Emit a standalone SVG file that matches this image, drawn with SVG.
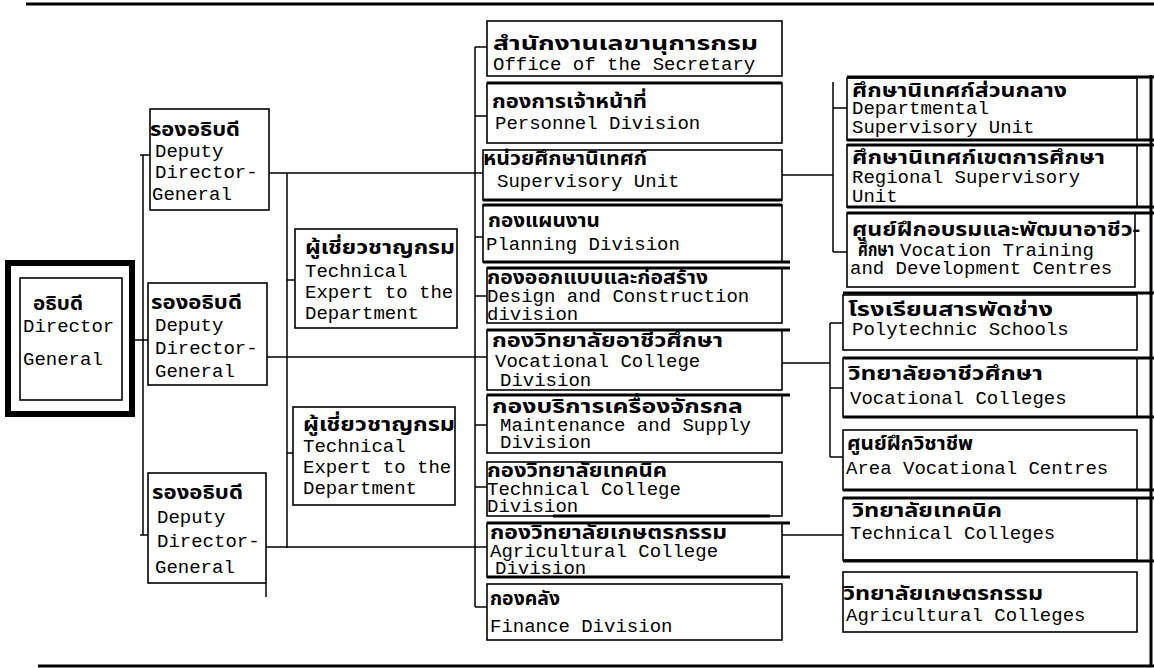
<svg xmlns="http://www.w3.org/2000/svg" width="1154" height="668" viewBox="0 0 1154 668">
<style>
.box{fill:#fff;stroke:#000;stroke-width:1.6}
.ln{stroke:#000;stroke-width:1.5;fill:none}
.tk{stroke:#000;stroke-width:3;fill:none}
.th{font-family:"Noto Sans Thai","Noto Sans",sans-serif;font-weight:bold;font-size:19px;fill:#000}
.en{font-family:"Liberation Mono",monospace;font-size:19px;fill:#000}
</style>
<rect width="1154" height="668" fill="#fff"/>
<g id="frame">
<line class="tk" x1="26" y1="4" x2="1154" y2="4" stroke-width="4"/>
<line class="tk" x1="38" y1="666" x2="1154" y2="666" stroke-width="2"/>
<line class="tk" x1="1151" y1="75" x2="1151" y2="666" stroke-width="2.5"/>
</g>
<g id="connectors">
<line class="ln" x1="135" y1="340" x2="148" y2="340"/>
<line class="ln" x1="143" y1="155" x2="143" y2="535"/>
<line class="ln" x1="140" y1="155" x2="150" y2="155"/>
<line class="ln" x1="140" y1="535" x2="148" y2="535"/>
<line class="ln" x1="269" y1="173" x2="483" y2="173"/>
<line class="ln" x1="287" y1="173" x2="287" y2="548"/>
<line class="ln" x1="267" y1="357" x2="487" y2="357"/>
<line class="ln" x1="266" y1="547" x2="487" y2="547"/>
<line class="ln" x1="287" y1="280" x2="295" y2="280"/>
<line class="ln" x1="287" y1="453" x2="293" y2="453"/>
<line class="ln" x1="475" y1="47" x2="475" y2="607"/>
<line class="ln" x1="475" y1="47" x2="487" y2="47"/>
<line class="ln" x1="475" y1="116" x2="487" y2="116"/>
<line class="ln" x1="475" y1="237" x2="483" y2="237"/>
<line class="ln" x1="475" y1="296" x2="487" y2="296"/>
<line class="ln" x1="475" y1="425" x2="487" y2="425"/>
<line class="ln" x1="475" y1="487" x2="487" y2="487"/>
<line class="ln" x1="475" y1="607" x2="487" y2="607"/>
<line class="ln" x1="782" y1="175" x2="833" y2="175"/>
<line class="ln" x1="833" y1="82" x2="833" y2="252" stroke-width="2.5"/>
<line class="ln" x1="833" y1="108" x2="847" y2="108"/>
<line class="ln" x1="833" y1="252" x2="847" y2="252"/>
<line class="ln" x1="782" y1="363" x2="830" y2="363"/>
<line class="ln" x1="830" y1="323" x2="830" y2="457"/>
<line class="ln" x1="830" y1="323" x2="843" y2="323"/>
<line class="ln" x1="830" y1="388" x2="843" y2="388"/>
<line class="ln" x1="830" y1="457" x2="843" y2="457"/>
<line class="ln" x1="782" y1="535" x2="843" y2="535"/>
</g>
<g id="dg">
<rect x="8" y="263" width="124" height="151" fill="#fff" stroke="#000" stroke-width="6"/>
<rect class="box" x="20" y="278" width="102" height="122"/>
<text class="th" x="33" y="310" textLength="50" lengthAdjust="spacingAndGlyphs">อธิบดี</text>
<text class="en" x="23" y="332">Director</text>
<text class="en" x="23" y="365">General</text>
</g>
<g id="deputy1">
<rect class="box" x="150" y="109" width="119" height="101"/>
<text class="th" x="150" y="136" textLength="90" lengthAdjust="spacingAndGlyphs">รองอธิบดี</text>
<text class="en" x="155" y="157">Deputy</text>
<text class="en" x="155" y="178">Director-</text>
<text class="en" x="152" y="200">General</text>
</g>
<g id="deputy2">
<rect class="box" x="148" y="283" width="119" height="102"/>
<text class="th" x="151" y="309" textLength="91" lengthAdjust="spacingAndGlyphs">รองอธิบดี</text>
<text class="en" x="155" y="331">Deputy</text>
<text class="en" x="155" y="354">Director-</text>
<text class="en" x="155" y="377">General</text>
</g>
<g id="deputy3">
<rect class="box" x="148" y="473" width="118" height="110"/>
<line class="ln" x1="266" y1="583" x2="266" y2="597"/>
<text class="th" x="152" y="499" textLength="91" lengthAdjust="spacingAndGlyphs">รองอธิบดี</text>
<text class="en" x="157" y="523">Deputy</text>
<text class="en" x="157" y="547">Director-</text>
<text class="en" x="155" y="573">General</text>
</g>
<g id="expert1">
<rect class="box" x="295" y="229" width="162" height="99"/>
<text class="th" x="305" y="254" textLength="150" lengthAdjust="spacingAndGlyphs">ผู้เชี่ยวชาญกรม</text>
<text class="en" x="305" y="277">Technical</text>
<text class="en" x="305" y="298">Expert to the</text>
<text class="en" x="305" y="319">Department</text>
</g>
<g id="expert2">
<rect class="box" x="293" y="407" width="162" height="98"/>
<text class="th" x="303" y="431" textLength="152" lengthAdjust="spacingAndGlyphs">ผู้เชี่ยวชาญกรม</text>
<text class="en" x="303" y="452">Technical</text>
<text class="en" x="303" y="473">Expert to the</text>
<text class="en" x="303" y="494">Department</text>
</g>
<g id="office">
<rect class="box" x="487" y="21" width="295" height="55"/>
<text class="th" x="493" y="50" textLength="265" lengthAdjust="spacingAndGlyphs">สำนักงานเลขานุการกรม</text>
<text class="en" x="493" y="70">Office of the Secretary</text>
</g>
<g id="personnel">
<rect class="box" x="487" y="83" width="295" height="60"/>
<line class="tk" x1="487" y1="83" x2="782" y2="83" stroke-width="2.5"/>
<text class="th" x="492" y="108" textLength="155" lengthAdjust="spacingAndGlyphs">กองการเจ้าหน้าที่</text>
<text class="en" x="495" y="129">Personnel Division</text>
</g>
<g id="supervisory">
<rect class="box" x="483" y="150" width="299" height="50"/>
<line class="tk" x1="483" y1="200" x2="782" y2="200" stroke-width="2.5"/>
<text class="th" x="483" y="165" textLength="164" lengthAdjust="spacingAndGlyphs">หน่วยศึกษานิเทศก์</text>
<text class="en" x="497" y="187">Supervisory Unit</text>
</g>
<g id="planning">
<rect class="box" x="483" y="205" width="299" height="57"/>
<line class="tk" x1="483" y1="205" x2="782" y2="205" stroke-width="2.5"/>
<line class="tk" x1="483" y1="262" x2="790" y2="262" stroke-width="2.5"/>
<text class="th" x="488" y="227" textLength="112" lengthAdjust="spacingAndGlyphs">กองแผนงาน</text>
<text class="en" x="486" y="250">Planning Division</text>
</g>
<g id="design">
<rect class="box" x="487" y="268" width="295" height="55"/>
<line class="tk" x1="487" y1="268" x2="790" y2="268" stroke-width="2.5"/>
<text class="th" x="487" y="284" textLength="221" lengthAdjust="spacingAndGlyphs">กองออกแบบและก่อสร้าง</text>
<text class="en" x="487" y="302">Design and Construction</text>
<text class="en" x="487" y="320">division</text>
</g>
<g id="vocdiv">
<rect class="box" x="487" y="330" width="295" height="60"/>
<line class="tk" x1="487" y1="330" x2="790" y2="330" stroke-width="2.5"/>
<text class="th" x="492" y="347" textLength="231" lengthAdjust="spacingAndGlyphs">กองวิทยาลัยอาชีวศึกษา</text>
<text class="en" x="495" y="367">Vocational College</text>
<text class="en" x="500" y="386">Division</text>
</g>
<g id="maintenance">
<rect class="box" x="487" y="395" width="295" height="58"/>
<line class="tk" x1="487" y1="395" x2="790" y2="395" stroke-width="2.5"/>
<text class="th" x="492" y="413" textLength="251" lengthAdjust="spacingAndGlyphs">กองบริการเครื่องจักรกล</text>
<text class="en" x="500" y="431">Maintenance and Supply</text>
<text class="en" x="500" y="448">Division</text>
</g>
<g id="techdiv">
<rect class="box" x="487" y="462" width="295" height="54"/>
<line class="tk" x1="553" y1="516" x2="770" y2="516" stroke-width="2.5"/>
<text class="th" x="487" y="477" textLength="180" lengthAdjust="spacingAndGlyphs">กองวิทยาลัยเทคนิค</text>
<text class="en" x="487" y="495">Technical College</text>
<text class="en" x="487" y="512">Division</text>
</g>
<g id="agridiv">
<rect class="box" x="487" y="523" width="295" height="54"/>
<line class="tk" x1="487" y1="523" x2="790" y2="523" stroke-width="2.5"/>
<line class="tk" x1="487" y1="577" x2="790" y2="577" stroke-width="2.5"/>
<text class="th" x="490" y="539" textLength="237" lengthAdjust="spacingAndGlyphs">กองวิทยาลัยเกษตรกรรม</text>
<text class="en" x="490" y="557">Agricultural College</text>
<text class="en" x="495" y="574">Division</text>
</g>
<g id="finance">
<rect class="box" x="487" y="584" width="295" height="56"/>
<text class="th" x="490" y="605" textLength="70" lengthAdjust="spacingAndGlyphs">กองคลัง</text>
<text class="en" x="490" y="632">Finance Division</text>
</g>
<g id="deptsup">
<rect class="box" x="847" y="78" width="290" height="62"/>
<line class="tk" x1="847" y1="77" x2="1154" y2="77"/>
<line class="tk" x1="847" y1="140" x2="1154" y2="140"/>
<text class="th" x="852" y="97" textLength="215" lengthAdjust="spacingAndGlyphs">ศึกษานิเทศก์ส่วนกลาง</text>
<text class="en" x="852" y="114">Departmental</text>
<text class="en" x="852" y="133">Supervisory Unit</text>
</g>
<g id="regsup">
<rect class="box" x="847" y="145" width="290" height="62"/>
<line class="tk" x1="847" y1="145" x2="1154" y2="145"/>
<line class="tk" x1="847" y1="207" x2="1154" y2="207"/>
<text class="th" x="852" y="164" textLength="253" lengthAdjust="spacingAndGlyphs">ศึกษานิเทศก์เขตการศึกษา</text>
<text class="en" x="852" y="183">Regional Supervisory</text>
<text class="en" x="852" y="202">Unit</text>
</g>
<g id="vtdc">
<rect class="box" x="847" y="213" width="288" height="74"/>
<line class="tk" x1="847" y1="213" x2="1154" y2="213"/>
<text class="th" x="852" y="236" textLength="288" lengthAdjust="spacingAndGlyphs">ศูนย์ฝึกอบรมและพัฒนาอาชีว-</text>
<text class="th" x="858" y="256" textLength="36" lengthAdjust="spacingAndGlyphs">ศึกษา</text>
<text class="en" x="900" y="256">Vocation Training</text>
<text class="en" x="850" y="274">and Development Centres</text>
</g>
<g id="polytech">
<rect class="box" x="843" y="295" width="294" height="55"/>
<line class="tk" x1="843" y1="293" x2="1154" y2="293"/>
<text class="th" x="848" y="316" textLength="205" lengthAdjust="spacingAndGlyphs">โรงเรียนสารพัดช่าง</text>
<text class="en" x="852" y="335">Polytechnic Schools</text>
</g>
<g id="voccol">
<rect class="box" x="843" y="358" width="294" height="59"/>
<line class="tk" x1="843" y1="358" x2="1154" y2="358"/>
<line class="tk" x1="843" y1="417" x2="1154" y2="417"/>
<text class="th" x="848" y="380" textLength="195" lengthAdjust="spacingAndGlyphs">วิทยาลัยอาชีวศึกษา</text>
<text class="en" x="850" y="404">Vocational Colleges</text>
</g>
<g id="areavoc">
<rect class="box" x="843" y="430" width="294" height="60"/>
<line class="tk" x1="843" y1="490" x2="1154" y2="490"/>
<text class="th" x="847" y="450" textLength="126" lengthAdjust="spacingAndGlyphs">ศูนย์ฝึกวิชาชีพ</text>
<text class="en" x="846" y="474">Area Vocational Centres</text>
</g>
<g id="techcol">
<rect class="box" x="843" y="498" width="294" height="62"/>
<line class="tk" x1="843" y1="498" x2="1154" y2="498"/>
<line class="tk" x1="843" y1="561" x2="1154" y2="561"/>
<text class="th" x="852" y="517" textLength="150" lengthAdjust="spacingAndGlyphs">วิทยาลัยเทคนิค</text>
<text class="en" x="850" y="539">Technical Colleges</text>
</g>
<g id="agricol">
<rect class="box" x="843" y="572" width="294" height="60"/>
<text class="th" x="843" y="600" textLength="200" lengthAdjust="spacingAndGlyphs">วิทยาลัยเกษตรกรรม</text>
<text class="en" x="846" y="621">Agricultural Colleges</text>
</g>
</svg>
